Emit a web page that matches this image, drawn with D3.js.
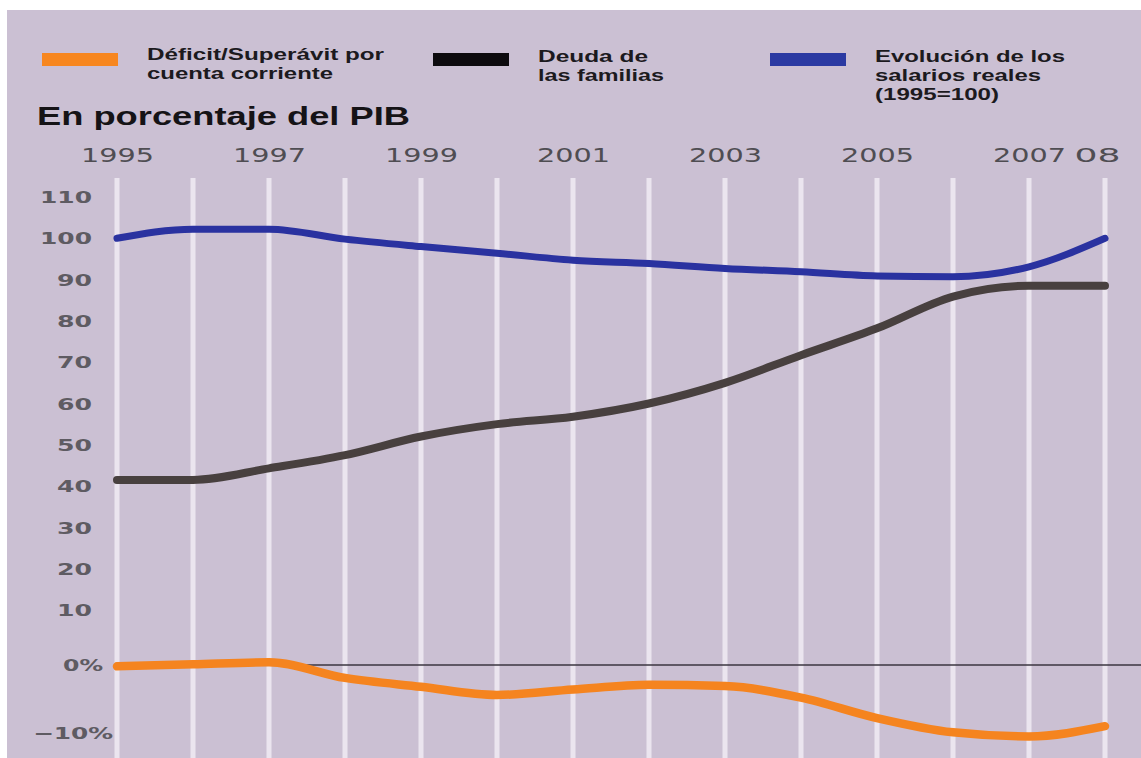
<!DOCTYPE html>
<html>
<head>
<meta charset="utf-8">
<script src="https://cdn.jsdelivr.net/npm/d3@7"></script>
<style>
  body { margin: 0; background: #fff; }
  .legendText { font-family: "Liberation Sans", Arial, sans-serif; font-weight: bold; font-size: 17px; fill: #1c1a1e; }
  .yearText { font-family: "DejaVu Sans", sans-serif; font-size: 20px; fill: #4f4d52; }
  .yText { font-family: "DejaVu Sans", sans-serif; font-size: 16px; font-weight: bold; fill: #5e5b62; }
</style>
</head>
<body>
<div id="chart"></div>
<script>
// Chart data
const years = [1995, 1996, 1997, 1998, 1999, 2000, 2001, 2002, 2003, 2004, 2005, 2006, 2007, 2008];
const salarios = [100, 102.2, 102.2, 99.8, 98.0, 96.4, 94.7, 93.9, 92.7, 91.9, 90.9, 90.7, 93.1, 100.0];
const deuda = [41.5, 41.5, 44.3, 47.5, 52.0, 55.0, 56.8, 60.0, 65.0, 71.7, 78.2, 85.9, 88.5, 88.5];
const cuenta = [-0.2, 0.1, 0.4, -1.9, -3.2, -4.4, -3.6, -2.9, -3.1, -4.8, -7.8, -9.9, -10.5, -9.0];
const yearLabels = [1995, 1997, 1999, 2001, 2003, 2005, 2007, 2008];
const topTicks = [10, 20, 30, 40, 50, 60, 70, 80, 90, 100, 110];
const bottomTicks = [0, -10];

// Chart Params
const svgWidth = 1141;
const svgHeight = 758;

const svg = d3.select("#chart")
  .append("svg")
  .attr("width", svgWidth)
  .attr("height", svgHeight);

// lavender panel
svg.append("rect")
  .attr("x", 7)
  .attr("y", 10)
  .attr("width", svgWidth - 7)
  .attr("height", svgHeight - 10)
  .attr("fill", "#cbc0d3");

// scales: upper block for debt/wages, lower block for current account
const xScale = d3.scaleLinear().domain([1995, 2008]).range([117, 1105]);
const yTop = d3.scaleLinear().domain([10, 110]).range([610, 197]);
const yBottom = d3.scaleLinear().domain([-10, 0]).range([733, 665]);

// vertical white grid lines, one per year
svg.append("g")
  .selectAll("line")
  .data(years)
  .enter()
  .append("line")
  .attr("x1", d => xScale(d))
  .attr("x2", d => xScale(d))
  .attr("y1", 178)
  .attr("y2", svgHeight)
  .attr("stroke", "#ebe5ef")
  .attr("stroke-width", 5);

// zero line
svg.append("line")
  .attr("x1", xScale(1995) - 1)
  .attr("x2", svgWidth)
  .attr("y1", yBottom(0))
  .attr("y2", yBottom(0))
  .attr("stroke", "#3b3640")
  .attr("stroke-width", 1.3);

// year axis on top
const topAxis = d3.axisTop(xScale)
  .tickValues(yearLabels)
  .tickSize(0)
  .tickFormat(d => d === 2008 ? "08" : String(d));

const yearAxis = svg.append("g")
  .attr("transform", "translate(0, 162)")
  .call(topAxis);
yearAxis.select(".domain").remove();
yearAxis.selectAll("text")
  .attr("class", "yearText")
  .attr("y", 0)
  .attr("dy", 0)
  .attr("x", d => d === 2008 ? -8 : 0)
  .attr("textLength", d => d === 2008 ? 46 : 73)
  .attr("lengthAdjust", "spacingAndGlyphs");

// left axis, upper block
const leftAxis = d3.axisLeft(yTop).tickValues(topTicks).tickSize(0);
const leftGroup = svg.append("g")
  .attr("transform", "translate(92, 0)")
  .call(leftAxis);
leftGroup.select(".domain").remove();
leftGroup.selectAll("text")
  .attr("class", "yText")
  .attr("x", 0)
  .attr("dy", "0.35em")
  .attr("textLength", d => d >= 100 ? 52 : 35)
  .attr("lengthAdjust", "spacingAndGlyphs");

// left axis, lower block
const lowAxis = d3.axisLeft(yBottom)
  .tickValues(bottomTicks)
  .tickSize(0)
  .tickFormat(d => d === 0 ? "0%" : "\u221210%");
const lowGroup = svg.append("g")
  .attr("transform", "translate(0, 0)")
  .call(lowAxis);
lowGroup.select(".domain").remove();
lowGroup.selectAll("text")
  .attr("class", "yText")
  .attr("x", d => d === 0 ? 103 : 113)
  .attr("dy", "0.35em")
  .attr("textLength", d => d === 0 ? 40 : 80)
  .attr("lengthAdjust", "spacingAndGlyphs");

// lines
const lineTop = d3.line()
  .x((d, i) => xScale(years[i]))
  .y(d => yTop(d))
  .curve(d3.curveMonotoneX);

const lineBottom = d3.line()
  .x((d, i) => xScale(years[i]))
  .y(d => yBottom(d))
  .curve(d3.curveMonotoneX);

svg.append("path")
  .datum(cuenta)
  .attr("d", lineBottom)
  .attr("fill", "none")
  .attr("stroke", "#f5841f")
  .attr("stroke-width", 8.5)
  .attr("stroke-linecap", "round")
  .attr("stroke-linejoin", "round");

svg.append("path")
  .datum(deuda)
  .attr("d", lineTop)
  .attr("fill", "none")
  .attr("stroke", "#48403f")
  .attr("stroke-width", 8)
  .attr("stroke-linecap", "round")
  .attr("stroke-linejoin", "round");

svg.append("path")
  .datum(salarios)
  .attr("d", lineTop)
  .attr("fill", "none")
  .attr("stroke", "#2a32a0")
  .attr("stroke-width", 7)
  .attr("stroke-linecap", "round")
  .attr("stroke-linejoin", "round");

// title
svg.append("text")
  .attr("x", 37)
  .attr("y", 125)
  .attr("font-family", "Liberation Sans, Arial, sans-serif")
  .attr("font-weight", "bold")
  .attr("font-size", 25)
  .attr("fill", "#151316")
  .attr("textLength", 373)
  .attr("lengthAdjust", "spacingAndGlyphs")
  .text("En porcentaje del PIB");

// legend
const legendItems = [
  { color: "#f7861e", x: 42, lines: [["Déficit/Superávit por", 237], ["cuenta corriente", 186]], y0: 60 },
  { color: "#0d0b0e", x: 433, lines: [["Deuda de", 110], ["las familias", 126]], y0: 62 },
  { color: "#2b3aa2", x: 770, lines: [["Evolución de los", 190], ["salarios reales", 166], ["(1995=100)", 124]], y0: 62 }
];

legendItems.forEach(function(item) {
  svg.append("rect")
    .attr("x", item.x)
    .attr("y", 53)
    .attr("width", 76)
    .attr("height", 13)
    .attr("fill", item.color);
  item.lines.forEach(function(l, i) {
    svg.append("text")
      .attr("class", "legendText")
      .attr("x", item.x + 105)
      .attr("y", item.y0 + i * 19)
      .attr("textLength", l[1])
      .attr("lengthAdjust", "spacingAndGlyphs")
      .text(l[0]);
  });
});
</script>
</body>
</html>
